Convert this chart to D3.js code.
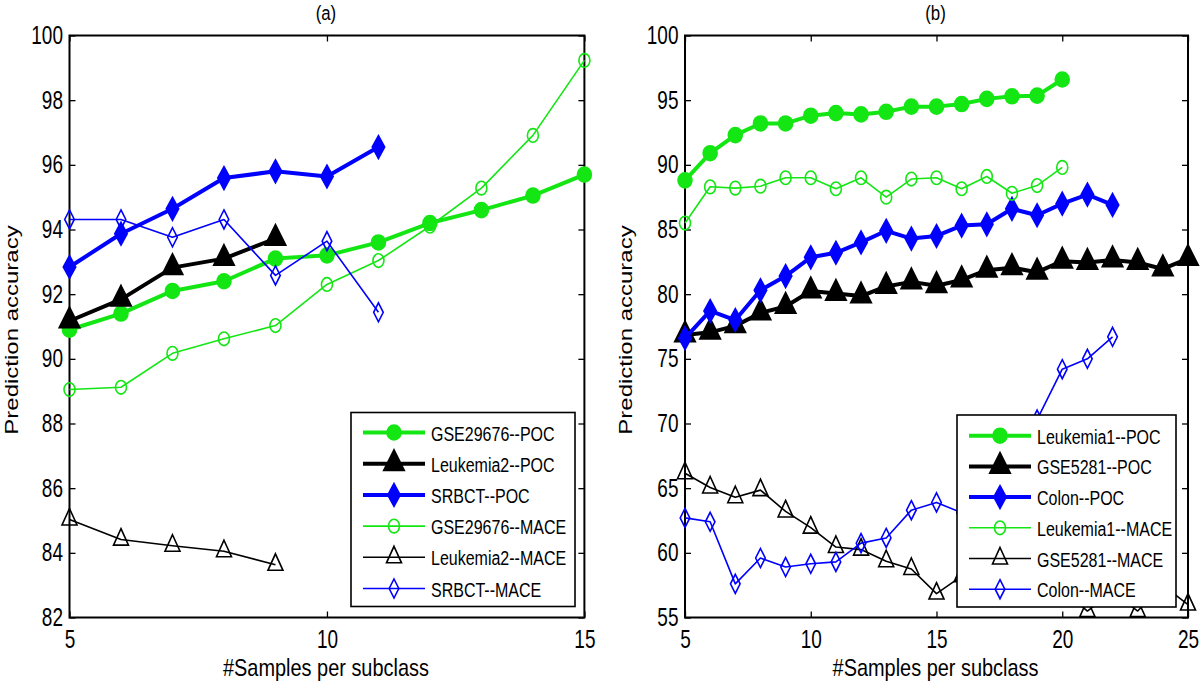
<!DOCTYPE html>
<html><head><meta charset="utf-8">
<script src="https://cdn.jsdelivr.net/npm/d3@7"></script>
<style>body{margin:0;background:#fff}</style>
</head><body>
<svg id="c" width="1200" height="685" xmlns="http://www.w3.org/2000/svg"></svg>
<script>
// ---------------- DATA ----------------
// Panel (a)
const xTicksA = [5, 10, 15];
const yTicksA = [82, 84, 86, 88, 90, 92, 94, 96, 98, 100];
const xA_gse = [5, 6, 7, 8, 9, 10, 11, 12, 13, 14, 15];
const xA_leu2 = [5, 6, 7, 8, 9];
const xA_srbct = [5, 6, 7, 8, 9, 10, 11];
const gse29676POC = [90.9, 91.4, 92.1, 92.4, 93.1, 93.2, 93.6, 94.2, 94.6, 95.05, 95.7];
const leukemia2POC = [91.17, 91.84, 92.82, 93.1, 93.72];
const srbctPOC = [92.84, 93.87, 94.64, 95.59, 95.8, 95.64, 96.55];
const gse29676MACE = [89.05, 89.12, 90.17, 90.62, 91.03, 92.3, 93.04, 94.1, 95.28, 96.91, 99.23];
const leukemia2MACE = [85.03, 84.41, 84.22, 84.05, 83.63];
const srbctMACE = [94.31, 94.31, 93.76, 94.31, 92.58, 93.64, 91.44];

// Panel (b)
const xTicksB = [5, 10, 15, 20, 25];
const yTicksB = [55, 60, 65, 70, 75, 80, 85, 90, 95, 100];
const xB_leu1 = [5, 6, 7, 8, 9, 10, 11, 12, 13, 14, 15, 16, 17, 18, 19, 20];
const xB_colon = [5, 6, 7, 8, 9, 10, 11, 12, 13, 14, 15, 16, 17, 18, 19, 20, 21, 22];
const xB_gse = [5, 6, 7, 8, 9, 10, 11, 12, 13, 14, 15, 16, 17, 18, 19, 20, 21, 22, 23, 24, 25];
const leukemia1POC = [88.8, 90.9, 92.3, 93.2, 93.2, 93.8, 94.0, 93.9, 94.1, 94.5, 94.5, 94.7, 95.1, 95.3, 95.35, 96.6];
const gse5281POC = [76.85, 77.05, 77.55, 78.55, 79.05, 80.25, 80.05, 79.85, 80.6, 80.95, 80.65, 81.1, 81.85, 82.05, 81.7, 82.55, 82.45, 82.65, 82.45, 81.95, 82.75];
const colonPOC = [76.6, 78.7, 78.0, 80.3, 81.4, 82.85, 83.2, 84.0, 84.9, 84.3, 84.5, 85.3, 85.4, 86.6, 86.1, 87.0, 87.7, 86.9];
const leukemia1MACE = [85.5, 88.3, 88.2, 88.35, 89.0, 89.0, 88.15, 89.0, 87.5, 88.9, 89.0, 88.15, 89.1, 87.8, 88.4, 89.8];
const gse5281MACE = [66.15, 65.05, 64.3, 64.85, 63.2, 61.95, 60.45, 60.25, 59.35, 58.75, 56.85, 58.2, 59.0, 58.0, 57.8, 57.2, 55.5, 57.0, 55.5, 57.5, 56.0];
const colonMACE = [62.7, 62.4, 57.6, 59.6, 58.9, 59.15, 59.3, 60.75, 61.15, 63.3, 63.9, 63.1, 65.0, 67.5, 70.3, 74.2, 75.0, 76.7];

const namesA = ["GSE29676--POC", "Leukemia2--POC", "SRBCT--POC", "GSE29676--MACE", "Leukemia2--MACE", "SRBCT--MACE"];
const namesB = ["Leukemia1--POC", "GSE5281--POC", "Colon--POC", "Leukemia1--MACE", "GSE5281--MACE", "Colon--MACE"];
const xLabel = "#Samples per subclass";
const yLabel = "Prediction accuracy";

// ---------------- STYLE ----------------
const GREEN = "#14e614", BLACK = "#000000", BLUE = "#0000ff";
const FONT = "'Liberation Sans', Arial, Helvetica, sans-serif";

const seriesA = [
  {name: namesA[0], x: xA_gse, y: gse29676POC, color: GREEN, poc: true, marker: "circle"},
  {name: namesA[1], x: xA_leu2, y: leukemia2POC, color: BLACK, poc: true, marker: "triangle"},
  {name: namesA[2], x: xA_srbct, y: srbctPOC, color: BLUE, poc: true, marker: "diamond"},
  {name: namesA[3], x: xA_gse, y: gse29676MACE, color: GREEN, poc: false, marker: "circle"},
  {name: namesA[4], x: xA_leu2, y: leukemia2MACE, color: BLACK, poc: false, marker: "triangle"},
  {name: namesA[5], x: xA_srbct, y: srbctMACE, color: BLUE, poc: false, marker: "diamond"}
];
const seriesB = [
  {name: namesB[0], x: xB_leu1, y: leukemia1POC, color: GREEN, poc: true, marker: "circle"},
  {name: namesB[1], x: xB_gse, y: gse5281POC, color: BLACK, poc: true, marker: "triangle"},
  {name: namesB[2], x: xB_colon, y: colonPOC, color: BLUE, poc: true, marker: "diamond"},
  {name: namesB[3], x: xB_leu1, y: leukemia1MACE, color: GREEN, poc: false, marker: "circle"},
  {name: namesB[4], x: xB_gse, y: gse5281MACE, color: BLACK, poc: false, marker: "triangle"},
  {name: namesB[5], x: xB_colon, y: colonMACE, color: BLUE, poc: false, marker: "diamond"}
];

const svg = d3.select("#c");

function drawMarker(g, s, cx, cy) {
  const sw = s.poc ? 2 : 1.6;
  const fill = s.poc ? s.color : "none";
  if (s.marker === "circle") {
    const rx = s.poc ? 6.8 : 5.5, ry = s.poc ? 7.3 : 6.8;
    g.append("ellipse").attr("cx", cx).attr("cy", cy).attr("rx", rx).attr("ry", ry)
      .attr("fill", fill).attr("stroke", s.color).attr("stroke-width", sw);
  } else if (s.marker === "triangle") {
    const d = s.poc ? "M0,-13.5L10,6.5L-10,6.5Z" : "M0,-11L7.5,5.5L-7.5,5.5Z";
    g.append("path").attr("d", d).attr("transform", `translate(${cx},${cy})`)
      .attr("fill", fill).attr("stroke", s.color).attr("stroke-width", sw).attr("stroke-linejoin", "miter");
  } else {
    const d = s.poc ? "M0,-11L6,0L0,11L-6,0Z" : "M0,-9.5L4.8,0L0,9.5L-4.8,0Z";
    g.append("path").attr("d", d).attr("transform", `translate(${cx},${cy})`)
      .attr("fill", fill).attr("stroke", s.color).attr("stroke-width", sw);
  }
}

function panel(o) {
  const x = d3.scaleLinear().domain(o.xDomain).range([o.left, o.right]);
  const y = d3.scaleLinear().domain(o.yDomain).range([o.bottom, o.top]);
  const g = svg.append("g");

  // axes (ticks inside, MATLAB style)
  const styleAxis = sel => {
    sel.select(".domain").remove();
    sel.selectAll(".tick line").attr("stroke", "#000").attr("stroke-width", 1.3);
    sel.attr("font-family", FONT).attr("font-size", 25);
    sel.selectAll(".tick text").attr("fill", "#000");
  };
  const bottomAx = g.append("g").attr("transform", `translate(0,${o.bottom})`)
    .call(d3.axisBottom(x).tickValues(o.xTicks).tickSizeInner(-6).tickSizeOuter(0).tickPadding(13));
  styleAxis(bottomAx);
  bottomAx.selectAll(".tick text").attr("transform", "scale(0.76,1)");

  const leftAx = g.append("g").attr("transform", `translate(${o.left},0)`)
    .call(d3.axisLeft(y).tickValues(o.yTicks).tickSizeInner(-6).tickSizeOuter(0).tickPadding(6));
  styleAxis(leftAx);
  leftAx.selectAll(".tick text").attr("x", 0).attr("transform", "translate(-6.5,0) scale(0.76,1)");

  const topAx = g.append("g").attr("transform", `translate(0,${o.top})`)
    .call(d3.axisTop(x).tickValues(o.xTicks).tickSizeInner(-6).tickSizeOuter(0).tickFormat(""));
  styleAxis(topAx);
  const rightAx = g.append("g").attr("transform", `translate(${o.right},0)`)
    .call(d3.axisRight(y).tickValues(o.yTicks).tickSizeInner(-6).tickSizeOuter(0).tickFormat(""));
  styleAxis(rightAx);

  g.append("rect").attr("x", o.left).attr("y", o.top)
    .attr("width", o.right - o.left).attr("height", o.bottom - o.top)
    .attr("fill", "none").attr("stroke", "#000").attr("stroke-width", 2);

  // series
  const line = d3.line().x(d => x(d[0])).y(d => y(d[1]));
  o.series.forEach(s => {
    const pts = s.x.map((v, i) => [v, s.y[i]]);
    const sg = g.append("g");
    sg.append("path").attr("d", line(pts)).attr("fill", "none")
      .attr("stroke", s.color).attr("stroke-width", s.poc ? 4 : 1.6)
      .attr("stroke-linejoin", "round");
    pts.forEach(p => drawMarker(sg, s, x(p[0]), y(p[1])));
  });

  // legend
  const L = o.legend;
  const lg = g.append("g");
  lg.append("rect").attr("x", L.x).attr("y", L.y).attr("width", L.w).attr("height", L.h)
    .attr("fill", "#fff").attr("stroke", "#000").attr("stroke-width", 1.6);
  o.series.forEach((s, i) => {
    const ry = L.y + L.first + i * L.step;
    lg.append("line").attr("x1", L.x + 12).attr("x2", L.x + 74).attr("y1", ry).attr("y2", ry)
      .attr("stroke", s.color).attr("stroke-width", s.poc ? 4 : 1.6);
    drawMarker(lg, s, L.x + 43, ry);
    lg.append("text").attr("transform", `translate(${L.x + 80},${ry + 8}) scale(0.8,1)`)
      .attr("font-family", FONT).attr("font-size", 20).attr("fill", "#000").text(s.name);
  });

  // titles / labels
  const cx = (o.left + o.right) / 2;
  g.append("text").attr("transform", `translate(${cx - 1},20) scale(0.8,1)`)
    .attr("text-anchor", "middle").attr("font-family", FONT).attr("font-size", 21).text(o.title);
  g.append("text").attr("transform", `translate(${cx - 1},676) scale(0.83,1)`)
    .attr("text-anchor", "middle").attr("font-family", FONT).attr("font-size", 24).text(xLabel);
  g.append("text").attr("transform", `translate(${o.ylabX},330) scale(0.8,1) rotate(-90)`)
    .attr("text-anchor", "middle").attr("font-family", FONT).attr("font-size", 24).text(yLabel);
}

panel({left: 69.5, right: 584.4, top: 35.5, bottom: 617.5,
  xDomain: [5, 15], yDomain: [82, 100], xTicks: xTicksA, yTicks: yTicksA,
  series: seriesA, title: "(a)", ylabX: 18,
  legend: {x: 351, y: 412.5, w: 224, h: 194, first: 20, step: 31.2}});

panel({left: 685, right: 1188, top: 35.5, bottom: 617.5,
  xDomain: [5, 25], yDomain: [55, 100], xTicks: xTicksB, yTicks: yTicksB,
  series: seriesB, title: "(b)", ylabX: 632,
  legend: {x: 957, y: 415, w: 219, h: 192, first: 20.7, step: 30.7}});
</script>
</body></html>
